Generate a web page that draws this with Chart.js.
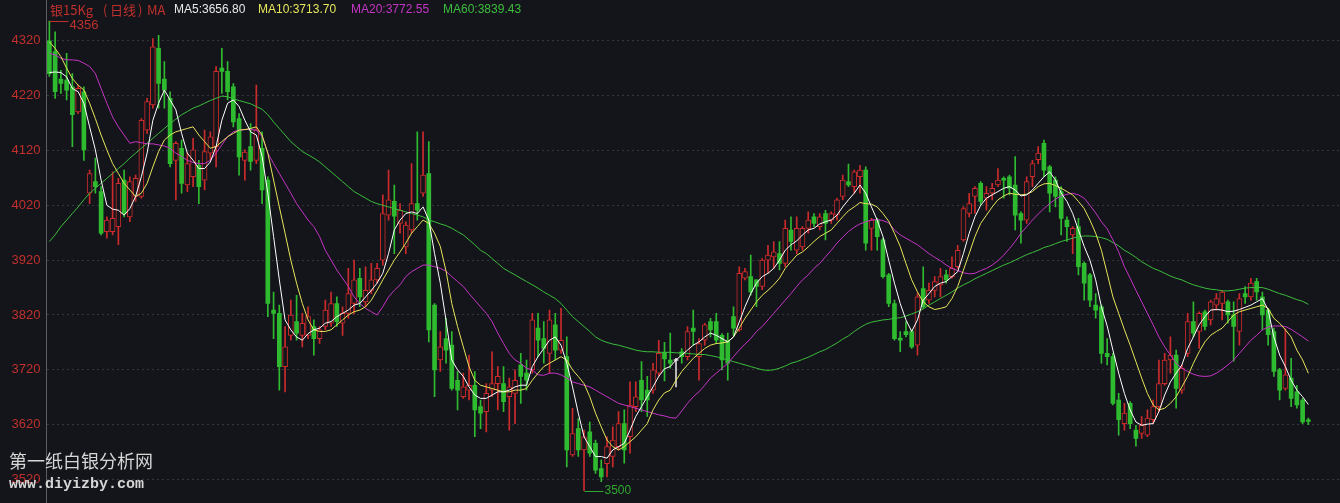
<!DOCTYPE html>
<html>
<head>
<meta charset="utf-8">
<script src="https://cdn.jsdelivr.net/npm/chart.js@4.4.1/dist/chart.umd.min.js"></script>
<style>
  html, body { margin: 0; padding: 0; background: #14151b; overflow: hidden; }
  #wrap { width: 1340px; height: 503px; }
</style>
</head>
<body>
<div id="wrap"><canvas id="kline" width="1340" height="503"></canvas></div>
<script>
// Daily silver 15Kg contract: OHLC per session, oldest first
const opens = [
  4320,4300,4250,4248,4236,4190,4227,4042,4063,4045,
  3972,3972,3981,4066,3999,4036,4036,4157,4203,4306,
  4250,4215,4102,4124,4057,4072,4093,4066,4115,4127,
  4270,4264,4236,4178,4102,4127,4102,4124,4066,3829,
  3823,3726,3783,3808,3783,3783,3799,3777,3799,3805,
  3841,3805,3823,3841,3887,3844,3865,3884,3920,4002,
  4027,3987,3944,3975,4023,4042,4078,3838,3738,3777,
  3765,3701,3671,3683,3692,3653,3644,3683,3695,3695,
  3671,3677,3729,3714,3720,3796,3777,3750,3802,3756,
  3744,3565,3613,3574,3607,3586,3540,3549,3562,3580,
  3622,3598,3653,3701,3683,3683,3714,3752,3738,3737,
  3753,3744,3796,3744,3774,3808,3808,3783,3774,3817,
  3793,3887,3890,3884,3872,3920,3926,3932,3914,3975,
  3938,3944,3978,3999,3981,4005,3993,4002,4036,4063,
  4054,4072,4084,3978,3993,3957,3893,3841,3778,3790,
  3790,3765,3868,3847,3865,3875,3893,3890,3908,3957,
  4005,4036,4060,4033,4042,4057,4069,4072,4057,4005,
  3993,4072,4103,4133,4090,4066,4045,3993,3966,3981,
  3914,3893,3838,3835,3750,3744,3665,3622,3659,3610,
  3604,3601,3629,3653,3695,3738,3747,3683,3750,3808,
  3790,3826,3811,3838,3841,3844,3820,3790,3859,3853,
  3881,3853,3829,3790,3720,3686,3705,3680,3665,3629
];
const highs = [
  4356,4336,4266,4297,4260,4239,4236,4084,4106,4054,
  3999,4081,4069,4084,4072,4075,4178,4215,4324,4330,
  4282,4227,4136,4139,4115,4142,4102,4157,4154,4273,
  4306,4282,4242,4187,4121,4169,4239,4154,4072,3862,
  3838,3799,3847,3856,3823,3835,3811,3799,3847,3862,
  3853,3835,3905,3920,3905,3908,3914,3914,4039,4084,
  4057,4023,3990,4096,4154,4154,4136,3841,3790,3814,
  3790,3717,3714,3747,3717,3665,3695,3753,3726,3726,
  3705,3720,3750,3738,3823,3823,3808,3829,3823,3832,
  3780,3650,3631,3610,3625,3592,3556,3598,3616,3644,
  3647,3698,3698,3735,3708,3732,3774,3770,3787,3741,
  3759,3799,3829,3777,3805,3814,3823,3786,3787,3835,
  3908,3905,3929,3884,3923,3947,3954,3954,3993,3999,
  3999,3981,4008,4005,4005,4011,4008,4033,4075,4095,
  4084,4093,4090,3996,3996,3960,3896,3847,3790,3808,
  3793,3859,3908,3878,3890,3905,3902,3926,3947,4017,
  4042,4054,4063,4054,4060,4087,4072,4075,4109,4008,
  4072,4102,4127,4139,4093,4072,4054,3999,3981,3996,
  3917,3896,3859,3838,3777,3750,3677,3659,3662,3619,
  3635,3647,3665,3738,3750,3780,3756,3729,3823,3844,
  3826,3829,3847,3859,3865,3847,3844,3859,3872,3887,
  3887,3862,3832,3796,3723,3795,3741,3692,3668,3632
];
const lows = [
  4255,4215,4224,4212,4127,4187,4102,4023,4042,3966,
  3960,3966,3948,3999,3990,4027,4033,4151,4197,4197,
  4197,4090,4030,4042,4045,4054,4023,4048,4103,4090,
  4224,4212,4163,4075,4066,4084,4096,4023,3817,3777,
  3683,3680,3774,3774,3762,3777,3747,3768,3793,3799,
  3799,3783,3814,3822,3835,3835,3859,3878,3911,3993,
  3932,3969,3932,3969,3993,4036,3771,3671,3717,3732,
  3683,3647,3668,3665,3598,3613,3607,3671,3647,3644,
  3610,3622,3659,3683,3714,3744,3732,3714,3738,3750,
  3543,3562,3562,3500,3562,3531,3516,3525,3543,3574,
  3550,3568,3644,3644,3635,3677,3708,3700,3723,3689,
  3732,3738,3765,3701,3765,3780,3768,3720,3701,3783,
  3790,3884,3856,3835,3866,3896,3905,3902,3908,3938,
  3932,3938,3969,3981,3975,3957,3987,3993,4030,4054,
  4042,4042,3938,3938,3938,3887,3835,3774,3753,3780,
  3759,3747,3832,3841,3853,3853,3878,3887,3905,3954,
  3999,4005,4020,4011,4030,4054,4033,4039,3975,3951,
  3987,4054,4096,4072,4008,4017,3966,3954,3932,3893,
  3847,3835,3814,3732,3729,3656,3601,3610,3613,3581,
  3595,3598,3622,3644,3692,3714,3650,3677,3744,3780,
  3759,3793,3802,3829,3811,3805,3736,3765,3841,3847,
  3847,3793,3765,3708,3665,3683,3653,3650,3622,3620
];
const closes = [
  4260,4227,4242,4230,4185,4233,4121,4078,4054,3969,
  3993,3996,4060,4005,4063,4069,4175,4209,4309,4242,
  4230,4096,4133,4060,4096,4121,4054,4118,4145,4264,
  4264,4227,4172,4108,4117,4100,4157,4048,3841,3823,
  3726,3762,3820,3787,3805,3817,3777,3793,3829,3841,
  3808,3823,3859,3884,3853,3865,3884,3905,4005,4030,
  4000,4011,3984,4023,4011,4075,3793,3720,3762,3756,
  3686,3683,3689,3692,3647,3641,3677,3695,3708,3662,
  3689,3701,3708,3701,3811,3774,3759,3811,3756,3774,
  3574,3604,3574,3598,3568,3537,3525,3580,3592,3622,
  3574,3656,3671,3665,3665,3720,3750,3740,3732,3737,
  3744,3790,3790,3768,3802,3793,3774,3738,3732,3796,
  3896,3899,3862,3872,3920,3929,3935,3914,3978,3954,
  3978,3978,3993,3987,3999,3987,4005,4030,4066,4057,
  4081,4084,3951,3993,3963,3890,3841,3777,3774,3784,
  3762,3853,3835,3865,3881,3890,3884,3905,3938,4014,
  4023,4051,4027,4042,4051,4066,4066,4051,4002,3993,
  4063,4096,4115,4084,4042,4036,3996,3981,3978,3908,
  3878,3847,3829,3750,3744,3659,3629,3641,3622,3595,
  3619,3632,3653,3695,3738,3747,3686,3723,3808,3787,
  3823,3799,3844,3850,3862,3820,3799,3850,3853,3878,
  3862,3820,3784,3717,3683,3711,3668,3656,3625,3626
];

// Moving averages as shown by the terminal (MA5 / MA10 / MA20 / MA60)
const ma5 = [
  4262,4263,4262,4254,4233,4227,4206,4163,4121,4066,
  4020,4013,4011,4002,4014,4036,4072,4115,4175,4206,
  4230,4212,4194,4151,4115,4102,4087,4087,4099,4127,
  4175,4206,4212,4200,4175,4154,4148,4109,4042,3963,
  3884,3811,3793,3780,3774,3786,3793,3796,3805,3808,
  3817,3823,3829,3838,3841,3853,3865,3878,3896,3932,
  3975,3993,4005,4008,4005,4017,3993,3932,3878,3810,
  3738,3720,3708,3689,3674,3668,3668,3674,3680,3680,
  3683,3689,3692,3692,3726,3744,3759,3774,3780,3765,
  3732,3689,3641,3598,3580,3562,3562,3559,3574,3580,
  3586,3610,3635,3653,3671,3689,3708,3722,3726,3738,
  3747,3756,3765,3771,3780,3787,3783,3777,3771,3780,
  3807,3835,3859,3878,3890,3896,3905,3920,3938,3948,
  3955,3966,3975,3978,3986,3990,3993,4002,4017,4030,
  4042,4057,4042,4017,3993,3963,3920,3878,3841,3811,
  3790,3811,3847,3859,3872,3878,3881,3890,3899,3932,
  3969,3999,4020,4033,4039,4045,4051,4054,4048,4037,
  4039,4048,4060,4072,4081,4066,4042,4027,4005,3975,
  3945,3920,3884,3835,3800,3756,3714,3677,3647,3625,
  3619,3621,3622,3644,3674,3698,3714,3729,3759,3780,
  3802,3817,3829,3830,3829,3826,3827,3830,3834,3838,
  3844,3850,3829,3780,3747,3726,3701,3683,3671,3656.80
];
const ma10 = [
  4318,4306,4291,4270,4251,4239,4230,4206,4178,4148,
  4121,4096,4078,4060,4048,4036,4042,4060,4090,4118,
  4139,4148,4154,4157,4160,4163,4148,4136,4124,4127,
  4136,4145,4151,4157,4158,4160,4163,4148,4115,4066,
  4017,3969,3920,3878,3841,3811,3793,3790,3790,3793,
  3802,3811,3820,3826,3829,3835,3847,3865,3884,3902,
  3920,3935,3951,3969,3981,3993,3987,3969,3945,3900,
  3841,3799,3762,3726,3701,3692,3689,3686,3683,3680,
  3680,3683,3683,3686,3701,3714,3726,3732,3738,3744,
  3738,3720,3708,3695,3671,3641,3616,3592,3580,3574,
  3580,3589,3598,3610,3622,3647,3665,3678,3683,3701,
  3717,3729,3741,3750,3759,3765,3768,3769,3771,3780,
  3796,3814,3829,3844,3856,3865,3875,3887,3905,3917,
  3929,3935,3944,3954,3963,3969,3975,3987,3999,4010,
  4017,4025,4023,4022,4017,4005,3991,3969,3945,3914,
  3884,3862,3844,3835,3830,3832,3835,3850,3872,3902,
  3932,3963,3987,4002,4017,4030,4037,4042,4040,4039,
  4040,4045,4054,4059,4060,4056,4051,4045,4039,4027,
  4014,3993,3969,3938,3896,3853,3823,3793,3765,3735,
  3705,3677,3656,3647,3650,3659,3671,3689,3708,3732,
  3753,3771,3783,3790,3796,3808,3820,3826,3829,3832,
  3835,3838,3832,3814,3805,3793,3780,3756,3738,3713.70
];
const ma20 = [
  4297,4294,4288,4285,4285,4284,4279,4273,4260,4233,
  4206,4181,4163,4148,4133,4136,4134,4132,4132,4130,
  4128,4124,4115,4109,4102,4098,4096,4096,4102,4115,
  4130,4145,4154,4157,4158,4158,4157,4145,4115,4096,
  4078,4060,4042,4023,4008,3993,3981,3963,3938,3920,
  3902,3887,3872,3853,3841,3832,3826,3820,3835,3853,
  3865,3875,3890,3899,3905,3911,3911,3908,3905,3900,
  3890,3881,3872,3859,3847,3835,3823,3808,3787,3768,
  3750,3738,3732,3723,3720,3711,3710,3714,3714,3711,
  3705,3698,3695,3692,3689,3683,3677,3671,3665,3659,
  3656,3653,3650,3647,3644,3641,3638,3636,3633,3632,
  3645,3659,3671,3680,3692,3705,3714,3723,3732,3744,
  3756,3767,3777,3790,3799,3811,3823,3835,3847,3859,
  3872,3884,3893,3905,3914,3926,3938,3951,3962,3972,
  3980,3986,3990,3993,3994,3992,3988,3975,3966,3960,
  3954,3948,3940,3932,3925,3919,3911,3905,3901,3897,
  3895,3896,3901,3905,3911,3919,3929,3941,3954,3969,
  3981,3993,4004,4014,4023,4031,4037,4040,4042,4039,
  4033,4020,4006,3990,3977,3957,3935,3908,3887,3865,
  3844,3823,3802,3780,3762,3747,3732,3723,3717,3712,
  3709,3708,3709,3714,3721,3729,3738,3750,3762,3774,
  3783,3793,3798,3800,3800,3799,3794,3787,3780,3772.55
];
const ma60 = [
  3954,3966,3981,3993,4005,4017,4030,4042,4051,4060,
  4069,4078,4087,4096,4106,4115,4124,4133,4142,4151,
  4160,4169,4177,4185,4191,4197,4201,4206,4211,4215,
  4219,4218,4214,4211,4208,4205,4200,4195,4185,4172,
  4160,4148,4136,4127,4118,4112,4106,4099,4090,4081,
  4072,4063,4054,4045,4039,4033,4027,4023,4020,4017,
  4014,4011,4008,4005,4002,3999,3993,3990,3986,3983,
  3978,3972,3966,3957,3948,3938,3932,3923,3914,3905,
  3899,3893,3887,3881,3875,3869,3862,3856,3850,3841,
  3829,3817,3808,3799,3790,3780,3774,3770,3767,3765,
  3762,3759,3756,3754,3753,3753,3752,3752,3752,3751,
  3751,3750,3749,3748,3748,3746,3744,3741,3738,3735,
  3732,3729,3726,3723,3720,3719,3720,3723,3727,3732,
  3735,3739,3743,3748,3753,3757,3763,3769,3776,3782,
  3790,3797,3803,3807,3809,3811,3812,3814,3815,3818,
  3822,3826,3831,3838,3844,3850,3856,3862,3869,3875,
  3880,3886,3891,3896,3901,3906,3911,3915,3920,3925,
  3930,3934,3938,3943,3946,3950,3954,3957,3960,3963,
  3964,3964,3963,3961,3958,3952,3946,3938,3932,3925,
  3917,3911,3905,3901,3896,3891,3887,3884,3879,3875,
  3872,3869,3867,3866,3864,3864,3865,3867,3869,3870,
  3870,3870,3867,3863,3859,3856,3852,3848,3845,3839.43
];

// Price axis labels
const priceTicks = [3520, 3620, 3720, 3820, 3920, 4020, 4120, 4220, 4320];

// Header text
const contractName = '银15Kg';
const periodName = '(日线)';
const indicatorName = 'MA';
const maNames = ['MA5', 'MA10', 'MA20', 'MA60'];

const BG = '#14151b';
const UP = '#cc2b2b';
const DOWN = '#2fbb2f';
const FLAT = '#d8d8d8';
const MA_COLORS = ['#ffffff', '#e6e65a', '#c535c5', '#3cbd3c'];

function candleColor(i) {
  if (closes[i] > opens[i]) return UP;
  if (closes[i] < opens[i]) return DOWN;
  return FLAT;
}

const idx = closes.map((c, i) => i);
const wickData = idx.map(i => ({ x: i, y: [lows[i], highs[i]] }));
// rising sessions are drawn hollow, falling and flat ones filled
const upBodies = idx.filter(i => closes[i] > opens[i]).map(i => ({ x: i, y: [opens[i], closes[i]] }));
const downBodies = idx.filter(i => closes[i] <= opens[i]).map(i => ({ x: i, y: [opens[i], closes[i]] }));
const maSeries = [ma5, ma10, ma20, ma60];

const overlay = {
  id: 'overlay',
  afterDraw(chart) {
    const { ctx, scales: { x, y } } = chart;
    ctx.save();

    // header: contract, period and latest MA readings
    ctx.textBaseline = 'middle';
    ctx.textAlign = 'left';
    ctx.font = '13px "Noto Sans CJK SC", "Liberation Sans", sans-serif';
    ctx.fillStyle = '#c0302c';
    ctx.fillText(contractName, 50, 10);
    ctx.fillText('(', 103, 10);
    ctx.fillText(periodName.slice(1, -1), 110, 10);
    ctx.fillText(')', 138, 10);
    ctx.fillText(indicatorName, 147, 10);
    const maX = [174, 258, 351, 443];
    ctx.font = '12px "Liberation Sans", Arial, sans-serif';
    maSeries.forEach((s, k) => {
      ctx.fillStyle = MA_COLORS[k] === '#ffffff' ? '#e8e8e8' : MA_COLORS[k];
      ctx.fillText(maNames[k] + ':' + s[s.length - 1].toFixed(2), maX[k], 10);
    });

    // highest high marker
    const hiVal = Math.max(...highs);
    const hiIdx = highs.indexOf(hiVal);
    const hx = Math.round(x.getPixelForValue(hiIdx)) + 0.5;
    const hy = Math.round(y.getPixelForValue(hiVal)) + 0.5;
    ctx.strokeStyle = '#c0302c';
    ctx.lineWidth = 1;
    ctx.beginPath();
    ctx.moveTo(hx, hy);
    ctx.lineTo(hx + 19, hy);
    ctx.stroke();
    ctx.fillStyle = '#c0302c';
    ctx.font = '13px "Liberation Sans", Arial, sans-serif';
    ctx.fillText(String(hiVal), hx + 20, hy + 4);

    // lowest low marker
    const loVal = Math.min(...lows);
    const loIdx = lows.indexOf(loVal);
    const lx = Math.round(x.getPixelForValue(loIdx)) + 0.5;
    const ly = Math.round(y.getPixelForValue(loVal)) + 0.5;
    ctx.strokeStyle = '#2ea82e';
    ctx.beginPath();
    ctx.moveTo(lx, ly);
    ctx.lineTo(lx + 19, ly);
    ctx.stroke();
    ctx.fillStyle = '#2ea82e';
    ctx.font = '12px "Liberation Sans", Arial, sans-serif';
    ctx.fillText(String(loVal), lx + 20, ly - 1);

    // site watermark
    ctx.fillStyle = '#d6d6d6';
    ctx.font = '18px "Noto Sans CJK SC", sans-serif';
    ctx.fillText('第一纸白银分析网', 9, 461);
    ctx.font = 'bold 15px "Liberation Mono", "DejaVu Sans Mono", monospace';
    ctx.fillText('www.diyizby.com', 9, 484);

    ctx.restore();
  }
};

new Chart(document.getElementById('kline'), {
  type: 'bar',
  data: {
    datasets: [
      ...maSeries.map((s, k) => ({
        type: 'line',
        label: maNames[k],
        data: s.map((v, i) => ({ x: i, y: v })),
        borderColor: MA_COLORS[k],
        borderWidth: 1,
        pointRadius: 0,
        tension: 0,
        order: 0
      })),
      {
        label: 'wick',
        data: wickData,
        backgroundColor: c => candleColor(c.raw.x),
        barThickness: 1,
        grouped: false,
        order: 2
      },
      {
        label: 'rising',
        data: upBodies,
        backgroundColor: BG,
        borderColor: UP,
        borderWidth: 1,
        borderSkipped: false,
        barThickness: 5,
        minBarLength: 2,
        grouped: false,
        order: 1
      },
      {
        label: 'falling',
        data: downBodies,
        backgroundColor: c => candleColor(c.raw.x),
        borderWidth: 0,
        barThickness: 4,
        minBarLength: 1,
        grouped: false,
        order: 1
      }
    ]
  },
  options: {
    responsive: false,
    devicePixelRatio: 1,
    animation: false,
    events: [],
    layout: { padding: 0 },
    plugins: { legend: { display: false }, tooltip: { enabled: false } },
    scales: {
      x: {
        type: 'linear',
        min: -0.5,
        max: 224.5,
        offset: false,
        grid: { offset: false },
        display: false
      },
      y: {
        position: 'left',
        min: 3477.3,
        max: 4394.2,
        afterBuildTicks: s => { s.ticks = priceTicks.map(v => ({ value: v })); },
        afterFit: s => { s.width = 46.5; s.paddingTop = 0; s.paddingBottom = 0; },
        ticks: {
          color: '#c0302c',
          padding: 6,
          font: { family: '"Liberation Sans", Arial, sans-serif', size: 13 },
          callback: v => String(v)
        },
        grid: { color: '#34363e', drawTicks: false, lineWidth: 1 },
        border: { display: true, color: '#5c5c62', width: 1, dash: [2, 3] }
      }
    }
  },
  plugins: [overlay]
});
</script>
</body>
</html>
